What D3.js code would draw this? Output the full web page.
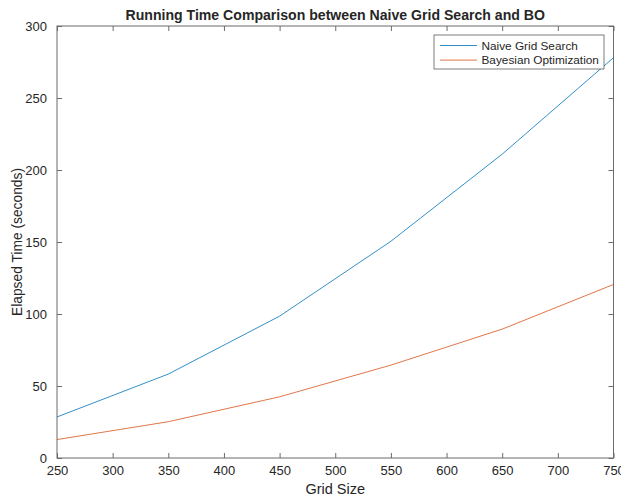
<!DOCTYPE html>
<html>
<head>
<meta charset="utf-8">
<script src="https://cdn.jsdelivr.net/npm/d3@7"></script>
<style>
  body { margin: 0; background: #fff; }
  svg text { font-family: "Liberation Sans", Arial, Helvetica, sans-serif; fill: #262626; }
</style>
</head>
<body>
<div id="chart"></div>
<script>
(function(){
	var width = 621,
	    height = 498;

	// grid sizes and elapsed times
	var gridSizes = [250, 350, 450, 550, 650, 750];
	var naiveTimes = [28.5, 58.3, 98.5, 150.5, 211, 278];
	var boTimes = [12.8, 25.2, 42.5, 64.5, 89.5, 120.5];
	var xTicks = [250, 300, 350, 400, 450, 500, 550, 600, 650, 700, 750];
	var yTicks = [0, 50, 100, 150, 200, 250, 300];
	var seriesNames = ["Naive Grid Search", "Bayesian Optimization"];
	var seriesColors = ["#0072BD", "#D95319"];

	var margin = {top: 26, right: 7.5, bottom: 40, left: 57};

	var svg = d3.select("#chart")
	  .append("svg")
	  .attr("width", width)
	  .attr("height", height);

	var x = d3.scaleLinear().domain([250, 750]).range([margin.left, width - margin.right]);
	var y = d3.scaleLinear().domain([0, 300]).range([height - margin.bottom, margin.top]);

	var axisColor = "#6b6b6b";

	// box round the plot
	svg.append("rect")
	  .attr("x", x(250))
	  .attr("y", y(300))
	  .attr("width", x(750) - x(250))
	  .attr("height", y(0) - y(300))
	  .attr("fill", "none")
	  .attr("stroke", axisColor)
	  .attr("stroke-width", 1);

	// inward ticks on all four sides, like matlab's box on
	var tickLen = 5;
	function styleAxis(g) {
		g.select(".domain").remove();
		g.selectAll(".tick line").attr("stroke", axisColor);
		g.selectAll(".tick text").style("font-size", "13px").attr("fill", "#262626");
	}

	svg.append("g")
	  .attr("transform", "translate(0," + y(0) + ")")
	  .call(d3.axisBottom(x).tickValues(xTicks).tickSizeInner(-tickLen).tickSizeOuter(0).tickPadding(8))
	  .call(styleAxis);

	svg.append("g")
	  .attr("transform", "translate(0," + y(300) + ")")
	  .call(d3.axisTop(x).tickValues(xTicks).tickSizeInner(-tickLen).tickSizeOuter(0).tickFormat(""))
	  .call(styleAxis);

	svg.append("g")
	  .attr("transform", "translate(" + x(250) + ",0)")
	  .call(d3.axisLeft(y).tickValues(yTicks).tickSizeInner(-tickLen).tickSizeOuter(0).tickPadding(10))
	  .call(styleAxis);

	svg.append("g")
	  .attr("transform", "translate(" + x(750) + ",0)")
	  .call(d3.axisRight(y).tickValues(yTicks).tickSizeInner(-tickLen).tickSizeOuter(0).tickFormat(""))
	  .call(styleAxis);

	// the two lines
	var line = d3.line()
	  .x(function(d) { return x(d[0]) })
	  .y(function(d) { return y(d[1]) });

	[naiveTimes, boTimes].forEach(function(vals, i) {
		svg.append("path")
		  .datum(gridSizes.map(function(g, j) { return [g, vals[j]] }))
		  .attr("d", line)
		  .attr("fill", "none")
		  .attr("stroke", seriesColors[i])
		  .attr("stroke-width", 0.8);
	});

	// title and labels
	svg.append("text")
	  .attr("x", (x(250) + x(750)) / 2)
	  .attr("y", 19.5)
	  .attr("text-anchor", "middle")
	  .style("font-size", "14.1px")
	  .style("font-weight", "bold")
	  .attr("fill", "#000")
	  .text("Running Time Comparison between Naive Grid Search and BO");

	svg.append("text")
	  .attr("x", (x(250) + x(750)) / 2)
	  .attr("y", 494)
	  .attr("text-anchor", "middle")
	  .style("font-size", "14.5px")
	  .text("Grid Size");

	svg.append("text")
	  .attr("transform", "translate(22," + (y(0) + y(300)) / 2 + ") rotate(-90)")
	  .attr("text-anchor", "middle")
	  .style("font-size", "13.8px")
	  .text("Elapsed Time (seconds)");

	// legend
	var legend = svg.append("g").attr("transform", "translate(434,35)");
	legend.append("rect")
	  .attr("width", 170)
	  .attr("height", 34)
	  .attr("fill", "#fff")
	  .attr("stroke", "#262626")
	  .attr("stroke-width", 0.6);

	seriesNames.forEach(function(name, i) {
		var ly = 10.5 + i * 14.6;
		legend.append("line")
		  .attr("x1", 6).attr("x2", 43)
		  .attr("y1", ly).attr("y2", ly)
		  .attr("stroke", seriesColors[i])
		  .attr("stroke-width", 0.8);
		legend.append("text")
		  .attr("x", 47.5)
		  .attr("y", ly + 4.3)
		  .style("font-size", "11.8px")
		  .attr("fill", "#000")
		  .text(name);
	});
})();
</script>
</body>
</html>
